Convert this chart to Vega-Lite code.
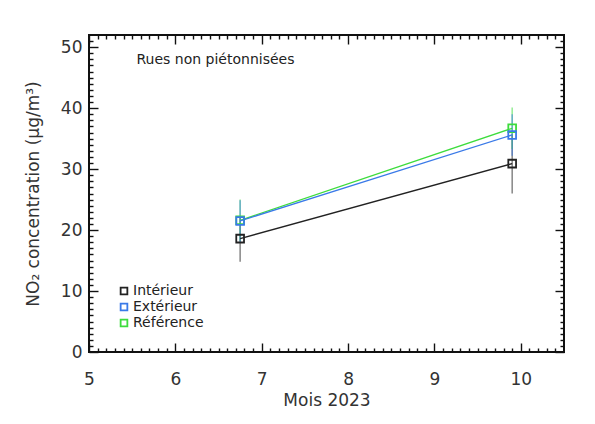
{
  "$schema": "https://vega.github.io/schema/vega-lite/v6.json",
  "autosize": "none",
  "width": 475,
  "height": 317,
  "padding": {"left": 89, "top": 35, "right": 31, "bottom": 72},
  "background": "white",
  "config": {
    "view": {"stroke": "#111", "strokeWidth": 2},
    "font": "DejaVu Sans",
    "axis": {"domain": false, "grid": false, "ticks": true, "tickColor": "#111", "tickWidth": 1.4, "tickOpacity": 1, "labelColor": "#333", "titleColor": "#333", "labelFont": "DejaVu Sans", "titleFont": "DejaVu Sans", "labelFontSize": 17, "titleFontSize": 17, "titleFontWeight": "normal", "zindex": 1}
  },
  "data": {"values": [
    {"serie": "Intérieur", "mois": 6.75, "no2": 18.6, "lo": 14.8, "hi": 22.3},
    {"serie": "Intérieur", "mois": 9.9, "no2": 30.9, "lo": 26.0, "hi": 35.7},
    {"serie": "Référence", "mois": 6.75, "no2": 21.6, "lo": 18.2, "hi": 25.0},
    {"serie": "Référence", "mois": 9.9, "no2": 36.7, "lo": 33.3, "hi": 40.1},
    {"serie": "Extérieur", "mois": 6.75, "no2": 21.5, "lo": 18.0, "hi": 24.9},
    {"serie": "Extérieur", "mois": 9.9, "no2": 35.6, "lo": 32.2, "hi": 39.0}
  ]},
  "resolve": {"axis": {"x": "independent", "y": "independent"}},
  "layer": [
    {
      "mark": {"type": "rule", "strokeWidth": 1.5, "opacity": 0.55},
      "encoding": {
        "x": {"field": "mois", "type": "quantitative", "scale": {"domain": [5, 10.5], "nice": false, "zero": false},
          "axis": {"orient": "bottom", "title": "Mois 2023", "titlePadding": 5,
            "values": [5, 6, 7, 8, 9, 10],
            "tickSize": -9, "labelPadding": 28, "labelFlush": false, "labelOverlap": false}},
        "y": {"field": "lo", "type": "quantitative", "scale": {"domain": [0, 52], "nice": false},
          "axis": {"orient": "left", "title": "NO₂ concentration (µg/m³)", "titlePadding": 18,
            "values": [0, 10, 20, 30, 40, 50],
            "tickSize": -9, "labelPadding": 16, "labelOverlap": false}},
        "y2": {"field": "hi"},
        "color": {"field": "serie", "type": "nominal",
          "scale": {"domain": ["Intérieur", "Extérieur", "Référence"], "range": ["#222222", "#3a7ae8", "#3ddc3d"]},
          "legend": {"title": null, "orient": "none", "legendX": 28, "legendY": 249, "symbolType": "square", "symbolFillColor": "transparent", "symbolStrokeWidth": 1.8, "symbolSize": 45, "symbolOpacity": 1, "labelFontSize": 14, "labelFont": "DejaVu Sans", "labelColor": "#222", "rowPadding": 2, "labelOffset": 2}}
      }
    },
    {
      "mark": {"type": "line", "strokeWidth": 1.3},
      "encoding": {
        "x": {"field": "mois", "type": "quantitative",
          "axis": {"orient": "top", "title": null, "labels": false, "values": [5, 6, 7, 8, 9, 10], "tickSize": -9}},
        "y": {"field": "no2", "type": "quantitative",
          "axis": {"orient": "right", "title": null, "labels": false, "values": [0, 10, 20, 30, 40, 50], "tickSize": -9}},
        "color": {"field": "serie", "type": "nominal"}
      }
    },
    {
      "mark": {"type": "point", "shape": "square", "filled": false, "size": 60, "strokeWidth": 1.8, "opacity": 1},
      "encoding": {
        "x": {"field": "mois", "type": "quantitative",
          "axis": {"orient": "bottom", "title": null, "labels": false, "tickSize": -4,
            "values": [5.1,5.2,5.3,5.4,5.5,5.6,5.7,5.8,5.9,6.1,6.2,6.3,6.4,6.5,6.6,6.7,6.8,6.9,7.1,7.2,7.3,7.4,7.5,7.6,7.7,7.8,7.9,8.1,8.2,8.3,8.4,8.5,8.6,8.7,8.8,8.9,9.1,9.2,9.3,9.4,9.5,9.6,9.7,9.8,9.9,10.1,10.2,10.3,10.4]}},
        "y": {"field": "no2", "type": "quantitative",
          "axis": {"orient": "left", "title": null, "labels": false, "tickSize": -4,
            "values": [1,2,3,4,5,6,7,8,9,11,12,13,14,15,16,17,18,19,21,22,23,24,25,26,27,28,29,31,32,33,34,35,36,37,38,39,41,42,43,44,45,46,47,48,49,51]}},
        "color": {"field": "serie", "type": "nominal"}
      }
    },
    {
      "data": {"values": [{"x": 5.55, "y": 47.9, "t": "Rues non piétonnisées"}]},
      "mark": {"type": "text", "align": "left", "baseline": "middle", "fontSize": 14, "font": "DejaVu Sans", "color": "#222"},
      "encoding": {
        "x": {"field": "x", "type": "quantitative",
          "axis": {"orient": "top", "title": null, "labels": false, "tickSize": -4,
            "values": [5.1,5.2,5.3,5.4,5.5,5.6,5.7,5.8,5.9,6.1,6.2,6.3,6.4,6.5,6.6,6.7,6.8,6.9,7.1,7.2,7.3,7.4,7.5,7.6,7.7,7.8,7.9,8.1,8.2,8.3,8.4,8.5,8.6,8.7,8.8,8.9,9.1,9.2,9.3,9.4,9.5,9.6,9.7,9.8,9.9,10.1,10.2,10.3,10.4]}},
        "y": {"field": "y", "type": "quantitative",
          "axis": {"orient": "right", "title": null, "labels": false, "tickSize": -4,
            "values": [1,2,3,4,5,6,7,8,9,11,12,13,14,15,16,17,18,19,21,22,23,24,25,26,27,28,29,31,32,33,34,35,36,37,38,39,41,42,43,44,45,46,47,48,49,51]}},
        "text": {"field": "t"}
      }
    }
  ]
}
